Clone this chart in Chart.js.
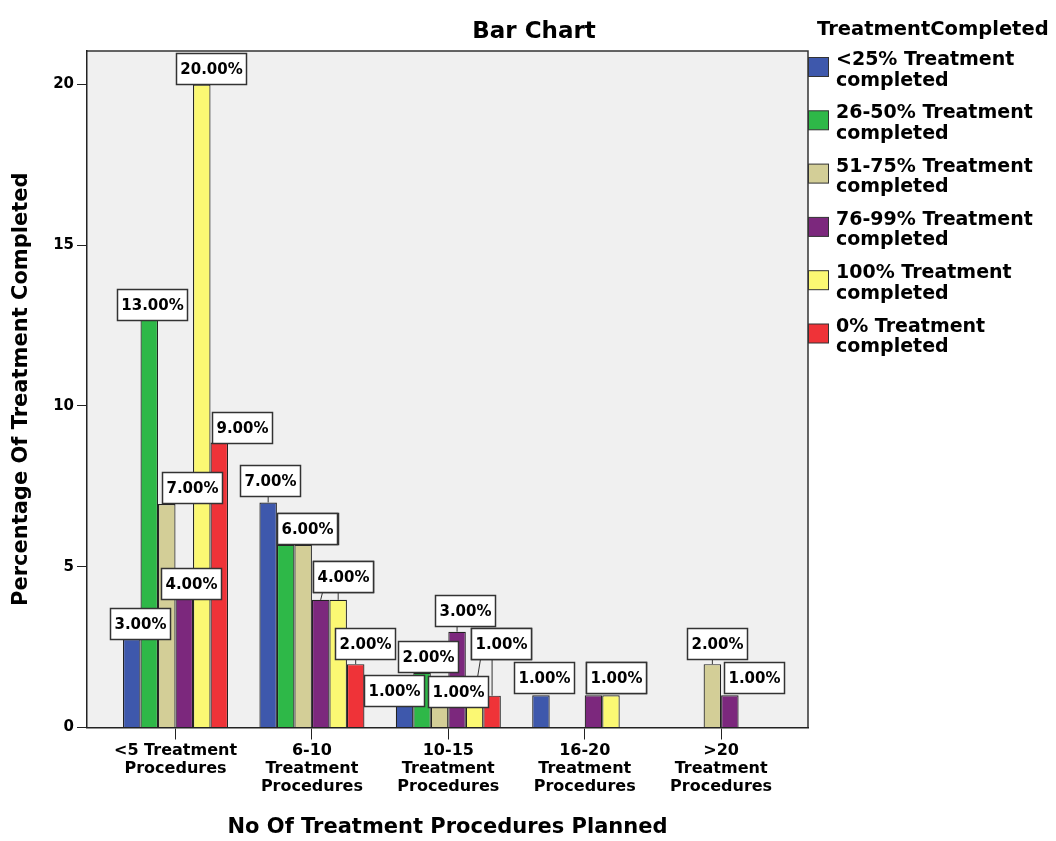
<!DOCTYPE html>
<html><head><meta charset="utf-8">
<script src="https://cdn.jsdelivr.net/npm/chart.js@4"></script>
<style>html,body{margin:0;padding:0;background:#fff}#wrap{width:1056px;height:841px;position:relative}</style>
</head><body><div id="wrap"><canvas id="c"></canvas></div>
<script>
// ---- data ----
const categories = ["<5 Treatment Procedures", "6-10 Treatment Procedures", "10-15 Treatment Procedures", "16-20 Treatment Procedures", ">20 Treatment Procedures"];
const tickLabels = [["<5 Treatment", "Procedures"], ["6-10", "Treatment", "Procedures"], ["10-15", "Treatment", "Procedures"], ["16-20", "Treatment", "Procedures"], [">20", "Treatment", "Procedures"]];
const seriesNames = ["<25% Treatment completed", "26-50% Treatment completed", "51-75% Treatment completed", "76-99% Treatment completed", "100% Treatment completed", "0% Treatment completed"];
// bar heights
const under25 = [2.75, 7.0, 1.0, 1.0, null];
const pct26to50 = [12.68, 5.68, 1.7, null, null];
const pct51to75 = [6.95, 5.68, 1.0, null, 1.97];
const pct76to99 = [4.0, 3.97, 2.98, 1.0, 1.0];
const pct100 = [20.0, 3.97, 1.0, 1.0, null];
const pct0 = [8.86, 1.97, 0.99, null, null];
// percentages printed in the label boxes
const under25Labels = [3, 7, 1, 1, null];
const pct26to50Labels = [13, 6, 2, null, null];
const pct51to75Labels = [7, 6, 1, null, 2];
const pct76to99Labels = [4, 4, 3, 1, 1];
const pct100Labels = [20, 4, 1, 1, null];
const pct0Labels = [9, 2, 1, null, null];
const yTickValues = [0, 5, 10, 15, 20];

const colors = ['#3E58AC', '#2EB848', '#D3CE97', '#7C287D', '#FBF873', '#EF3338'];
const seriesValues = [under25, pct26to50, pct51to75, pct76to99, pct100, pct0];
const seriesLabels = [under25Labels, pct26to50Labels, pct51to75Labels, pct76to99Labels, pct100Labels, pct0Labels];

const FONT = "'DejaVu Sans', 'Verdana', sans-serif";

const datasets = seriesNames.map((name, i) => ({
  label: name,
  data: seriesValues[i].map((v, j) => ({ x: j, y: v })),
  valueLabels: seriesLabels[i],
  backgroundColor: colors[i],
  borderColor: '#222',
  borderWidth: 1.2,
  categoryPercentage: 0.77,
  barPercentage: 1.0
}));

// label box placement tweaks [dx, gap] per series / category (styling only)
const labelOffsets = [
  [[8, 0], [2, 6], [-11, -10.5], [3, 2], null],
  [[3, 0], [22, 1], [6, 1], null, null],
  [[25, 1], [4, 1], [18, -11.5], null, [5, 5]],
  [[7, 0], [22, 8], [8, 6], [23, 2], [24, 2]],
  [[9, 0], [5, 8], [26, 36.5], [5, 2], null],
  [[23, 0], [9, 5], [9, 36.5], null, null]
];

const plotBg = {
  id: 'plotBg',
  beforeDraw(chart) {
    const { ctx, chartArea: a } = chart;
    ctx.save();
    ctx.fillStyle = '#F0F0F0';
    ctx.fillRect(a.left, a.top, a.right - a.left, a.bottom - a.top);
    ctx.strokeStyle = '#333';
    ctx.lineWidth = 1.5;
    ctx.beginPath();
    ctx.moveTo(a.left, a.top); ctx.lineTo(a.right, a.top); ctx.lineTo(a.right, a.bottom);
    ctx.stroke();
    ctx.restore();
  }
};

const barLabels = {
  id: 'barLabels',
  afterDatasetsDraw(chart) {
    const ctx = chart.ctx;
    ctx.save();
    ctx.font = 'bold 15px ' + FONT;
    const items = [];
    chart.data.datasets.forEach((ds, di) => {
      const meta = chart.getDatasetMeta(di);
      ds.valueLabels.forEach((lv, j) => {
        if (lv == null) return;
        const bar = meta.data[j];
        const off = (labelOffsets[di] && labelOffsets[di][j]) || [0, 2];
        const text = lv.toFixed(2) + '%';
        const w = Math.round(ctx.measureText(text).width + 8);
        const h = 31;
        const cx = bar.x + off[0];
        const bottom = bar.y - off[1];
        items.push({ text, x: cx - w / 2, y: bottom - h, w, h, bx: bar.x, by: bar.y, gap: off[1] });
      });
    });
    ctx.strokeStyle = '#333';
    ctx.lineWidth = 1;
    items.forEach(it => {
      if (it.gap > 3) {
        const sx = Math.min(Math.max(it.bx, it.x + 10), it.x + it.w - 10);
        ctx.beginPath();
        ctx.moveTo(sx, it.y + it.h);
        ctx.lineTo(it.bx, it.by);
        ctx.stroke();
      }
    });
    items.forEach(it => {
      const x = Math.round(it.x) + 0.5, y = Math.round(it.y) + 0.5;
      ctx.fillStyle = '#fff';
      ctx.fillRect(x, y, it.w, it.h);
      ctx.strokeStyle = '#333';
      ctx.lineWidth = 1.5;
      ctx.strokeRect(x, y, it.w, it.h);
      ctx.fillStyle = '#000';
      ctx.textAlign = 'center';
      ctx.textBaseline = 'middle';
      ctx.fillText(it.text, x + it.w / 2, y + it.h / 2 + 1);
    });
    ctx.restore();
  }
};

const sideLegend = {
  id: 'sideLegend',
  afterDraw(chart) {
    const ctx = chart.ctx;
    ctx.save();
    // chart title
    ctx.fillStyle = '#000';
    ctx.font = 'bold 23px ' + FONT;
    ctx.textAlign = 'center';
    ctx.textBaseline = 'alphabetic';
    ctx.fillText('Bar Chart', 534, 38);
    // legend
    ctx.textAlign = 'left';
    ctx.font = 'bold 19.5px ' + FONT;
    ctx.fillText('TreatmentCompleted', 817, 35);
    ctx.font = 'bold 19px ' + FONT;
    chart.data.datasets.forEach((ds, i) => {
      const top = 57 + 53.3 * i;
      ctx.fillStyle = ds.backgroundColor;
      ctx.fillRect(808.5, top + 0.5, 20, 19);
      ctx.strokeStyle = '#333';
      ctx.lineWidth = 1;
      ctx.strokeRect(808.5, top + 0.5, 20, 19);
      const k = ds.label.lastIndexOf(' ');
      ctx.fillStyle = '#000';
      ctx.fillText(ds.label.slice(0, k), 836, top + 8);
      ctx.fillText(ds.label.slice(k + 1), 836, top + 28.5);
    });
    ctx.restore();
  }
};

new Chart(document.getElementById('c'), {
  type: 'bar',
  data: { datasets },
  options: {
    responsive: true,
    maintainAspectRatio: false,
    devicePixelRatio: 1,
    animation: false,
    layout: { padding: { top: 51, right: 248, bottom: 0, left: 0 } },
    plugins: { legend: { display: false }, title: { display: false }, tooltip: { enabled: false } },
    scales: {
      x: {
        type: 'linear',
        min: -0.649,
        max: 4.637,
        offset: false,
        afterBuildTicks: s => { s.ticks = categories.map((_, i) => ({ value: i })); },
        afterFit: s => { s.height = 113.5; },
        ticks: {
          callback: v => tickLabels[v],
          autoSkip: false,
          maxRotation: 0,
          minRotation: 0,
          padding: 2,
          color: '#000',
          font: { family: FONT, size: 16, weight: 'bold', lineHeight: 1.125 }
        },
        grid: { drawOnChartArea: false, offset: false, drawTicks: true, tickLength: 12, color: '#222' },
        border: { display: true, color: '#222', width: 1.5 },
        title: {
          display: true,
          text: 'No Of Treatment Procedures Planned',
          color: '#000',
          font: { family: FONT, size: 21, weight: 'bold', lineHeight: 1.2 },
          padding: { top: 0, bottom: 1 }
        }
      },
      y: {
        type: 'linear',
        min: 0,
        max: 21.04,
        afterBuildTicks: s => { s.ticks = yTickValues.map(v => ({ value: v })); },
        afterFit: s => { s.width = 87; },
        ticks: {
          stepSize: 5,
          includeBounds: false,
          padding: 3,
          color: '#000',
          font: { family: FONT, size: 15, weight: 'bold' }
        },
        grid: { drawOnChartArea: false, drawTicks: true, tickLength: 10, color: '#222' },
        border: { display: true, color: '#222', width: 1.5 },
        title: {
          display: true,
          text: 'Percentage Of Treatment Completed',
          color: '#000',
          font: { family: FONT, size: 21, weight: 'bold', lineHeight: 1.2 },
          padding: { top: 9, bottom: 0 }
        }
      }
    }
  },
  plugins: [plotBg, barLabels, sideLegend]
});
</script>
</body></html>
